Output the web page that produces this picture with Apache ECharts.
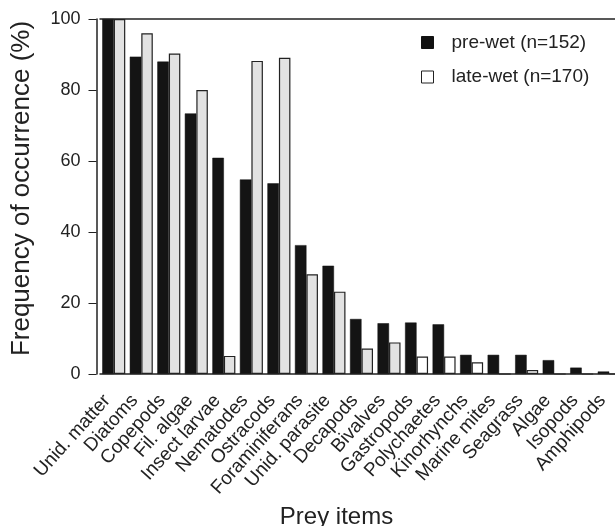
<!DOCTYPE html>
<html>
<head>
<meta charset="utf-8">
<script src="https://cdn.jsdelivr.net/npm/echarts@6/dist/echarts.min.js"></script>
<style>
  html, body { margin: 0; padding: 0; background: #fff; }
  #chart { width: 615px; height: 526px; }
</style>
</head>
<body>
<div id="chart"></div>
<script>
// prey categories (x axis)
const preyItems = ['Unid. matter', 'Diatoms', 'Copepods', 'Fil. algae', 'Insect larvae',
  'Nematodes', 'Ostracods', 'Foraminiferans', 'Unid. parasite', 'Decapods', 'Bivalves',
  'Gastropods', 'Polychaetes', 'Kinorhynchs', 'Marine mites', 'Seagrass', 'Algae',
  'Isopods', 'Amphipods']
// frequency of occurrence (%)
const preWet = [100, 89.4, 88.0, 73.4, 60.9, 54.8, 53.7, 36.3, 30.5, 15.5, 14.3,
  14.5, 14.0, 5.4, 5.4, 5.4, 3.9, 1.8, 0.7]
const lateWet = [100, 96.0, 90.3, 80.0, 5.1, 88.2, 89.1, 28.1, 23.2, 7.2, 8.9,
  4.9, 4.9, 3.3, 0, 1.1, 0, 0, 0]
const yTicks = [0, 20, 40, 60, 80, 100]

const chart = echarts.init(document.getElementById('chart'))
const font = 'Liberation Sans, Arial, sans-serif'

chart.setOption({
  animation: false,
  backgroundColor: '#fff',
  textStyle: { fontFamily: font },
  grid: {
    left: 100,
    right: -8,
    top: 19,
    bottom: 152,
    containLabel: false,
    outerBoundsMode: 'none'
  },
  legend: {
    data: [
      { name: 'pre-wet (n=152)', itemStyle: { color: '#111', borderColor: '#111', borderWidth: 1 } },
      { name: 'late-wet (n=170)', itemStyle: { color: '#fff', borderColor: '#222', borderWidth: 1 } }
    ],
    orient: 'vertical',
    left: 416,
    top: 28,
    itemWidth: 12,
    itemHeight: 12,
    itemGap: 15.5,
    icon: 'rect',
    textStyle: { fontSize: 19, color: '#222', fontFamily: font, padding: [0, 0, 0, 13] }
  },
  xAxis: [
    {
      type: 'category',
      data: preyItems,
      position: 'bottom',
      name: 'Prey items',
      nameLocation: 'middle',
      nameGap: 128,
      nameTextStyle: { fontSize: 24, color: '#222', padding: [0, 0, 0, -50] },
      axisLine: { lineStyle: { color: '#222', width: 1.5 } },
      axisTick: { alignWithLabel: true, length: 5, lineStyle: { color: '#222' } },
      axisLabel: {
        rotate: 48,
        fontSize: 19,
        color: '#222',
        margin: 16,
        padding: [0, 10, 0, 0],
        interval: 0
      }
    },
    {
      type: 'category',
      data: preyItems,
      position: 'top',
      axisLine: { lineStyle: { color: '#222', width: 1.5 } },
      axisTick: { show: false },
      axisLabel: { show: false }
    }
  ],
  yAxis: {
    type: 'value',
    min: yTicks[0],
    max: yTicks[yTicks.length - 1],
    interval: 20,
    offset: 3.5,
    name: 'Frequency of occurrence (%)',
    nameLocation: 'middle',
    nameGap: 62,
    nameTextStyle: { fontSize: 26, color: '#222', padding: [0, 0, 0, 16] },
    splitLine: { show: false },
    axisLine: { show: true, lineStyle: { color: '#222', width: 1.5 } },
    axisTick: { show: true, length: 8, lineStyle: { color: '#222' } },
    axisLabel: { fontSize: 18, color: '#222', margin: 16 }
  },
  series: [
    {
      name: 'pre-wet (n=152)',
      type: 'bar',
      data: preWet,
      barWidth: 11.5,
      barGap: '0%',
      itemStyle: { color: '#141414', borderColor: '#111', borderWidth: 0.5 }
    },
    {
      name: 'late-wet (n=170)',
      type: 'bar',
      data: lateWet,
      barWidth: 11.5,
      itemStyle: {
        color: function (p) { return p.dataIndex <= 10 ? '#e2e2e2' : '#fff' },
        borderColor: '#222',
        borderWidth: 1.2
      }
    }
  ]
})
</script>
</body>
</html>
